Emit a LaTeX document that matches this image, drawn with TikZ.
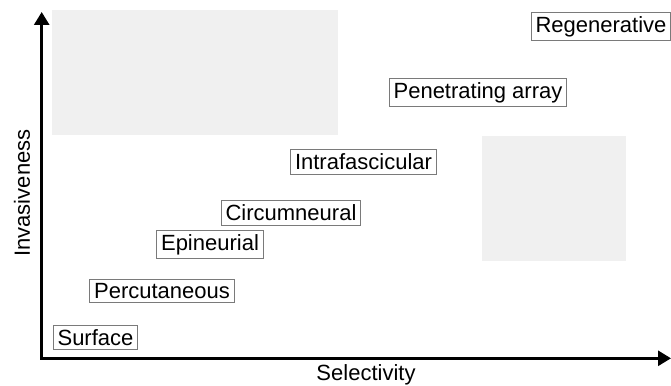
\documentclass[tikz,border=0pt]{standalone}
\usepackage{fontspec}
\setmainfont{Liberation Sans}
\usetikzlibrary{arrows.meta}
\definecolor{zone}{HTML}{F0F0F0}
\definecolor{frame}{HTML}{7A7A7A}
\tikzset{
  lbl/.style={draw=frame, line width=0.9pt, fill=white, inner xsep=4.5pt, inner ysep=4pt, font=\fontsize{22}{26}\selectfont},
  axis/.style={line width=2.7pt, -{Triangle[width=15pt,length=13pt]}},
  axlbl/.style={font=\fontsize{22}{26}\selectfont, inner sep=0pt}
}
\begin{document}
\begin{tikzpicture}[x=1pt,y=-1pt]
\useasboundingbox (0,0) rectangle (671,385);
% shaded zones
\fill[zone] (52,10) rectangle (338,135);
\fill[zone] (482,136) rectangle (626,261);
% axes
\coordinate (o) at (41.7,358.3);
\coordinate (ytop) at (41.7,12);
\coordinate (xend) at (671,358.3);
\draw[axis] ([yshift=-1.3pt]o) -- (ytop);
\draw[axis] ([xshift=-1.3pt]o) -- (xend);
\node[axlbl] (xl) at (366,375) {Selectivity};
\node[axlbl, rotate=90] (yl) at (22,193) {Invasiveness};
% labels
\node[lbl] (surf) at (95.5,337.5) {Surface};
\node[lbl] (perc) at (162,291) {Percutaneous};
\node[lbl] (epi) at (210,244.5) {Epineurial};
\node[lbl] (circ) at (291,213) {Circumneural};
\node[lbl] (intra) at (363.5,162) {Intrafascicular};
\node[lbl] (pen) at (478,92.5) {Penetrating array};
\node[lbl] (regen) at (601,26.5) {Regenerative};
\end{tikzpicture}
\end{document}
